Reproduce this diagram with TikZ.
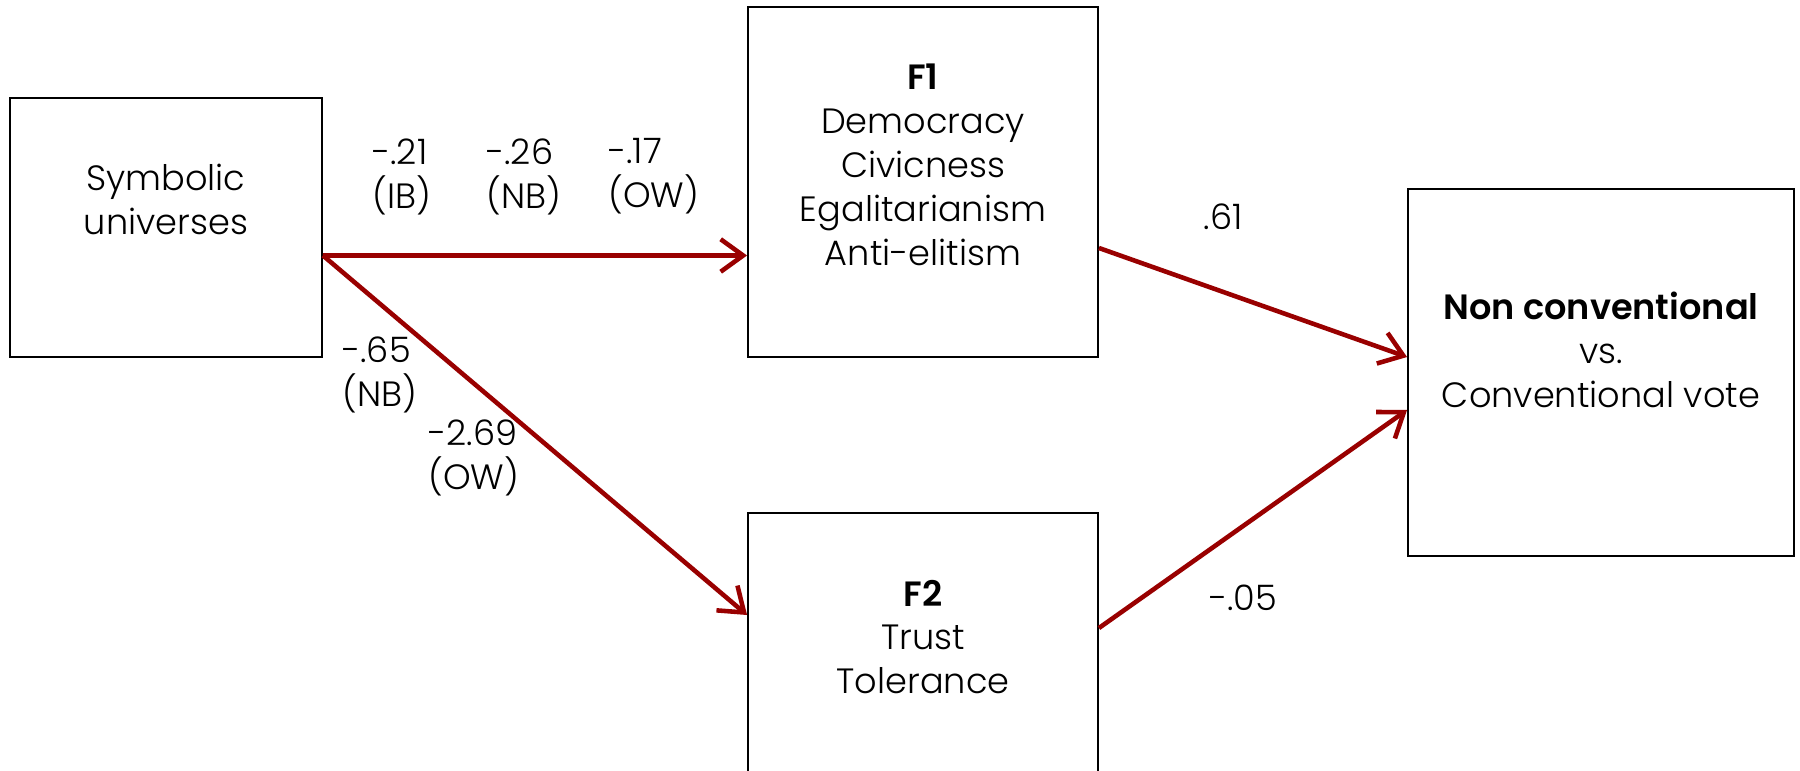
\documentclass[tikz,border=0pt]{standalone}
\usepackage{fontspec}
\setmainfont{Poppins}[UprightFont=* Light, BoldFont=* SemiBold]
\usetikzlibrary{arrows.meta}
\definecolor{pathred}{RGB}{153,0,0}
\begin{document}
\begin{tikzpicture}[x=0.02cm, y=-0.02cm, every node/.style={font=\fontsize{20}{25}\selectfont, align=center, inner sep=0pt}, box/.style={draw, line width=1.1pt}, coef/.style={align=left, anchor=west}, link/.style={draw=pathred, line width=2.6pt, -{Straight Barb[length=0.45cm, width=0.65cm]}}]

	\useasboundingbox (0,0) rectangle (1800,771);

	\node[box, minimum width=6.24cm, minimum height=5.18cm] (su) at (166,227.5) {};

	\node[box, minimum width=7cm, minimum height=7cm] (f1) at (923,182) {};

	\node[box, minimum width=7cm, minimum height=7cm] (f2) at (923,688) {};

	\node[box, minimum width=7.72cm, minimum height=7.34cm] (nc) at (1601,372.5) {};

	\node (sutext) at (166,199) {Symbolic\\universes};

	\node (f1text) at (923,165) {\textbf{F1}\\Democracy\\Civicness\\Egalitarianism\\Anti-elitism};

	\node (f2text) at (923,637) {\textbf{F2}\\Trust\\Tolerance};

	\node (nctext) at (1601,350) {\textbf{Non conventional}\\vs.\\Conventional vote};

	\draw[link] ([yshift=-0.56cm]su.east) -- ([yshift=-1.47cm]f1.west);

	\draw[link] ([yshift=-0.56cm]su.east) -- ([yshift=1.46cm]f2.west);

	\draw[link] ([yshift=-1.32cm]f1.east) -- ([yshift=0.31cm]nc.west);

	\draw[link] ([yshift=1.2cm]f2.east) -- ([yshift=-0.75cm]nc.west);

	\node[coef] (ib) at (372,176.5) {-.21\\(IB)};

	\node[coef] (nb1) at (486,176.5) {-.26\\(NB)};

	\node[coef] (ow1) at (608,176.5) {-.17\\(OW)};

	\node[coef] (nb2) at (342,374.5) {-.65\\(NB)};

	\node[coef] (ow2) at (428,457.5) {-2.69\\(OW)};

	\node (b1) at (1223,217) {.61};

	\node (b2) at (1243,598) {-.05};

\end{tikzpicture}
\end{document}
